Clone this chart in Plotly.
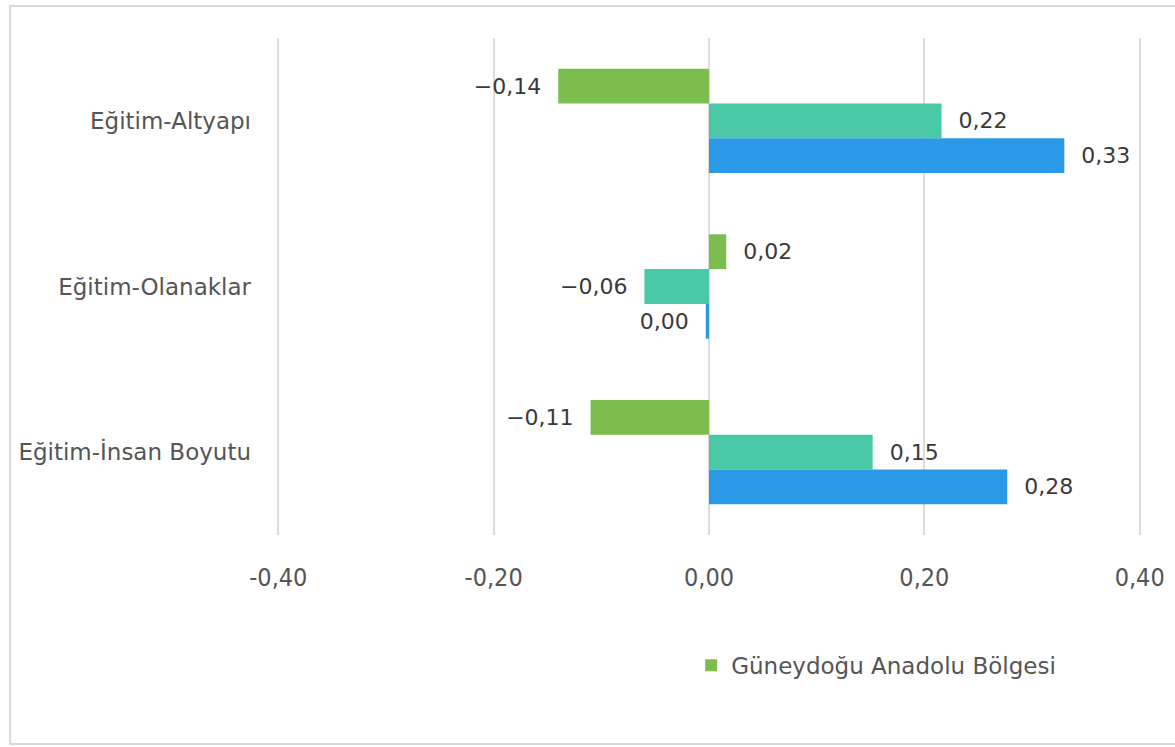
import plotly.graph_objects as go

categories = ["Eğitim-Altyapı", "Eğitim-Olanaklar", "Eğitim-İnsan Boyutu"]
series_names = ["Güneydoğu Anadolu Bölgesi", "Seri 2", "Seri 3"]
green_vals = [-0.14, 0.016, -0.11]
teal_vals = [0.216, -0.06, 0.152]
blue_vals = [0.33, -0.003, 0.277]
colors = ["#7dbd4e", "#49c9a6", "#2a9ae6"]
x_ticks = [-0.4, -0.2, 0.0, 0.2, 0.4]
x_tick_labels = ["-0,40", "-0,20", "0,00", "0,20", "0,40"]

NB = "\u00a0"


def fmt(v):
    s = f"{abs(v):.2f}".replace(".", ",")
    if round(v, 2) < 0:
        s = "\u2212" + s
    return s + NB * 2 if v < 0 else NB * 2 + s


fig = go.Figure()
for name, vals, col, show in zip(series_names, [green_vals, teal_vals, blue_vals], colors, [True, False, False]):
    fig.add_trace(go.Bar(
        y=categories, x=vals, orientation="h", name=name,
        marker=dict(color=col, line=dict(width=0)),
        text=[fmt(v) for v in vals], textposition="outside",
        textfont=dict(family="DejaVu Sans", size=22, color="#3a3a3a"),
        cliponaxis=False, showlegend=show, hoverinfo="x+y",
    ))

fig.update_layout(
    width=1175, height=747,
    margin=dict(l=274, r=31, t=38, b=212, autoexpand=False),
    barmode="group", bargap=0.37, bargroupgap=0,
    paper_bgcolor="white", plot_bgcolor="white",
    font=dict(family="DejaVu Sans", color="#555555"),
    xaxis=dict(range=[-0.404, 0.404], tickvals=x_ticks, ticktext=x_tick_labels,
               automargin=False,
               showgrid=True, gridcolor="#dcdcdc", gridwidth=1.5,
               zeroline=True, zerolinecolor="#dcdcdc", zerolinewidth=1.5,
               showline=False, ticks="", ticklabelstandoff=25,
               tickfont=dict(family="DejaVu Sans Condensed", size=25, color="#555555")),
    yaxis=dict(autorange="reversed", showgrid=False, showline=False, ticks="",
               automargin=False, ticklabelstandoff=22,
               tickfont=dict(family="DejaVu Sans", size=23, color="#555555")),
    legend=dict(x=0.4795, y=-0.262, xanchor="left", yanchor="middle",
                font=dict(family="DejaVu Sans", size=23, color="#555555"),
                bgcolor="rgba(0,0,0,0)"),
    shapes=[
        dict(type="rect", xref="paper", yref="paper", x0=-0.3034, x1=1.1,
             y0=-0.4205, y1=1.0644, line=dict(color="#d9d9d9", width=2), layer="below"),
    ],
)
fig.write_html("out.html", post_script="document.body.style.margin='0';",
               config={"displayModeBar": False})
